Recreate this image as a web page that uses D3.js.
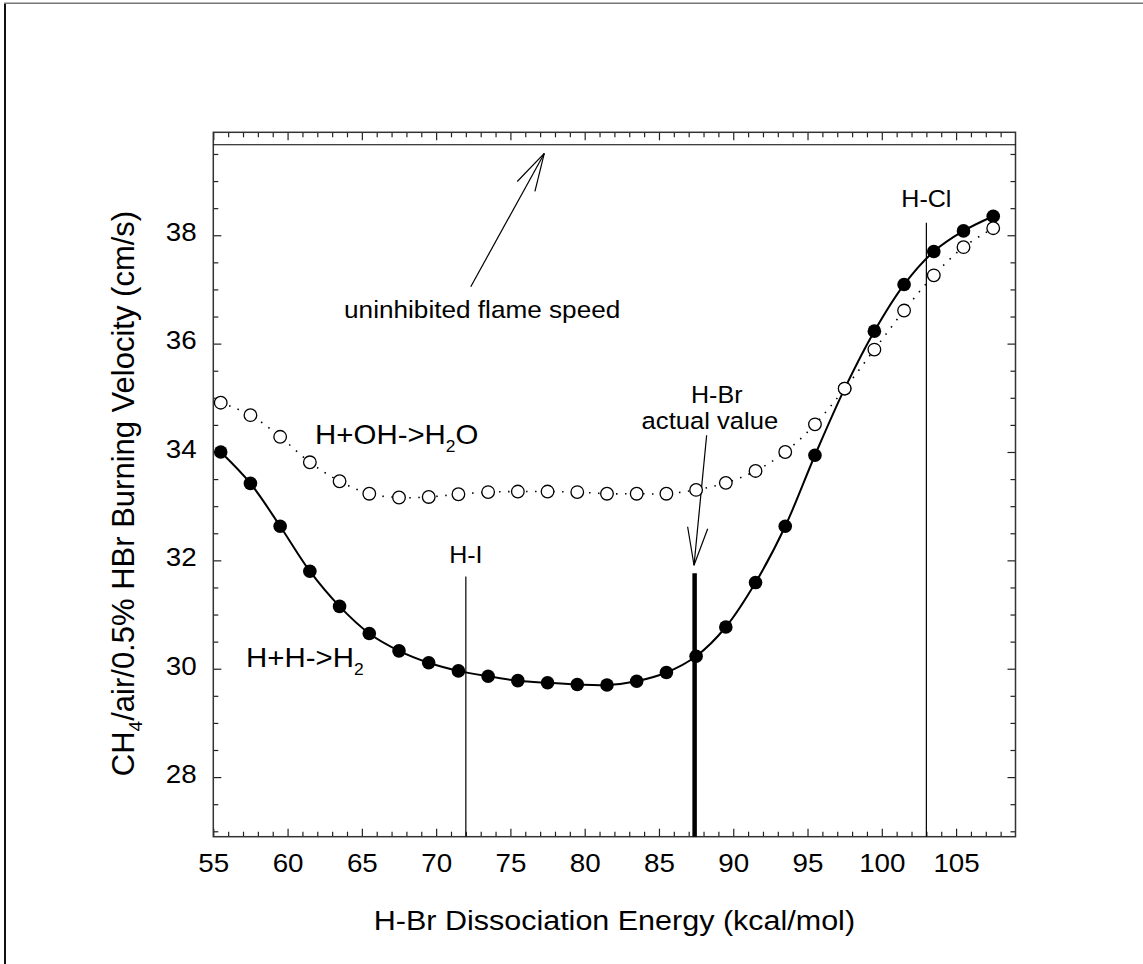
<!DOCTYPE html>
<html>
<head>
<meta charset="utf-8">
<script src="https://cdn.jsdelivr.net/npm/d3@7"></script>
<style>
  body { margin: 0; background: #fff; }
  svg { display: block; font-family: "Liberation Sans", Arial, sans-serif; }
</style>
</head>
<body>
<svg id="chart" width="1143" height="964"></svg>
<script>
// H-Br dissociation energy (kcal/mol) for each computed point
const energy = [55.5, 57.5, 59.5, 61.5, 63.5, 65.5, 67.5, 69.5, 71.5, 73.5, 75.5, 77.5, 79.5, 81.5,
  83.5, 85.5, 87.5, 89.5, 91.5, 93.5, 95.5, 97.5, 99.5, 101.5, 103.5, 105.5, 107.5];
// burning velocity (cm/s), H+H->H2 variant (filled) and H+OH->H2O variant (open)
const velocityHH = [34.00, 33.42, 32.63, 31.80, 31.15, 30.65, 30.33, 30.11, 29.96, 29.86, 29.78, 29.74,
  29.71, 29.70, 29.77, 29.93, 30.23, 30.77, 31.59, 32.63, 33.94, 35.17, 36.23, 37.09, 37.70, 38.08, 38.35];
const velocityHOH = [34.91, 34.68, 34.28, 33.81, 33.46, 33.23, 33.16, 33.17, 33.22, 33.26, 33.27, 33.27,
  33.26, 33.23, 33.23, 33.23, 33.30, 33.43, 33.65, 34.00, 34.51, 35.17, 35.89, 36.61, 37.26, 37.78, 38.13];

const xMajorTicks = [55, 60, 65, 70, 75, 80, 85, 90, 95, 100, 105];
const yMajorTicks = [28, 30, 32, 34, 36, 38];
const uninhibitedSpeed = 39.67;

// reference bond energies (vertical marker lines)
const bondNames = ['H-I', 'H-Br', 'H-Cl'];
const bondEnergy = [72, 87.4, 103];
const bondTop = [31.70, 31.76, 38.23];

const margin = { top: 132.3, right: 127.5, bottom: 127.3, left: 213.3 };
const width = 1143, height = 964;
const SX = 1.09; // the original text is slightly wider than Arial

const svg = d3.select('#chart');

const x = d3.scaleLinear().domain([55, 109]).range([margin.left, width - margin.right]);
const y = d3.scaleLinear().domain([26.9, 39.9]).range([height - margin.bottom, margin.top]);

// outer page border (left and top only are visible)
svg.append('line').attr('x1', 5).attr('x2', 5).attr('y1', 3).attr('y2', height)
  .style('stroke', '#111').style('stroke-width', 2);
svg.append('line').attr('x1', 4).attr('x2', width).attr('y1', 3.3).attr('y2', 3.3)
  .style('stroke', '#777').style('stroke-width', 1.5);

// ticks
const addAxis = (axis, transform, size, ticks, labels) => {
  const g = svg.append('g').attr('transform', transform)
    .call(axis.tickValues(ticks).tickSizeInner(-size).tickSizeOuter(0)
      .tickFormat(labels ? d3.format('d') : ''));
  g.select('.domain').remove();
  g.selectAll('line').style('stroke', '#222').style('stroke-width', 1.2);
  return g;
};

const xMinor = d3.range(56, 109, 1).filter(v => v % 5 !== 0);
const yMinor = d3.range(27, 39.9, 0.5).filter(v => v % 2 !== 0);
const bottomY = y.range()[0], topY = y.range()[1];

const xAxisG = addAxis(d3.axisBottom(x).tickPadding(17.6), `translate(0,${bottomY})`, 8, xMajorTicks, true);
addAxis(d3.axisBottom(x), `translate(0,${bottomY})`, 5, xMinor, false);
addAxis(d3.axisTop(x), `translate(0,${topY})`, 8, xMajorTicks, false);
addAxis(d3.axisTop(x), `translate(0,${topY})`, 5, xMinor, false);
const yAxisG = addAxis(d3.axisLeft(y).tickPadding(15.2), `translate(${x.range()[0]},0)`, 8, yMajorTicks, true);
addAxis(d3.axisLeft(y), `translate(${x.range()[0]},0)`, 5, yMinor, false);
addAxis(d3.axisRight(y), `translate(${x.range()[1]},0)`, 8, yMajorTicks, false);
addAxis(d3.axisRight(y), `translate(${x.range()[1]},0)`, 5, yMinor, false);

xAxisG.selectAll('text').attr('font-size', 25.5).attr('font-family', null)
  .attr('fill', '#000').attr('transform', `scale(${SX},1)`);
yAxisG.selectAll('text').attr('font-size', 25.5).attr('font-family', null)
  .attr('fill', '#000').attr('dy', '0.21em').attr('transform', `scale(${SX},1)`);

// plot frame
svg.append('rect')
  .attr('x', x.range()[0]).attr('y', topY)
  .attr('width', x.range()[1] - x.range()[0]).attr('height', bottomY - topY)
  .style('fill', 'none').style('stroke', '#333').style('stroke-width', 1.5);

// axis titles
svg.append('text')
  .attr('transform', `translate(${(x.range()[0] + x.range()[1]) / 2},930) scale(${SX},1)`)
  .attr('text-anchor', 'middle').attr('font-size', 28)
  .text('H-Br Dissociation Energy (kcal/mol)');

const yTitle = svg.append('text')
  .attr('transform', `translate(134,${(topY + bottomY) / 2 + 9}) rotate(-90)`)
  .attr('text-anchor', 'middle').attr('font-size', 31);
yTitle.append('tspan').text('CH');
yTitle.append('tspan').attr('font-size', 19).attr('dy', 8).text('4');
yTitle.append('tspan').attr('dy', -8).text('/air/0.5% HBr Burning Velocity (cm/s)');

// uninhibited flame speed reference line
svg.append('line')
  .attr('x1', x.range()[0]).attr('x2', x.range()[1])
  .attr('y1', y(uninhibitedSpeed)).attr('y2', y(uninhibitedSpeed))
  .style('stroke', '#000').style('stroke-width', 1.2);

// bond energy markers
bondNames.forEach((name, i) => {
  svg.append('line')
    .attr('x1', x(bondEnergy[i])).attr('x2', x(bondEnergy[i]))
    .attr('y1', y(bondTop[i])).attr('y2', bottomY)
    .style('stroke', '#000').style('stroke-width', name === 'H-Br' ? 4.5 : 1.2);
});

const addLabel = (text, px, py, size, anchor) => svg.append('text')
  .attr('transform', `translate(${px},${py}) scale(${SX},1)`)
  .attr('text-anchor', anchor || 'middle').attr('font-size', size).text(text);

addLabel('H-I', x(72), y(31.95), 23);
addLabel('H-Cl', x(103), y(38.53), 23);
addLabel('H-Br', x(88.89), y(34.91), 23);
addLabel('actual value', x(88.43), y(34.43), 23.5);
addLabel('uninhibited flame speed', x(73.1), y(36.47), 24);

const addChem = (parts, px, py) => {
  const t = svg.append('text')
    .attr('transform', `translate(${px},${py}) scale(${SX},1)`)
    .attr('font-size', 27);
  t.append('tspan').text(parts[0]);
  t.append('tspan').attr('font-size', 16).attr('dy', 8).text(parts[1]);
  if (parts[2]) t.append('tspan').attr('dy', -8).text(parts[2]);
};
addChem(['H+OH->H', '2', 'O'], x(61.85), y(34.15));
addChem(['H+H->H', '2'], x(57.2), y(30.04));

// open-headed arrows
const arrows = [
  { from: [72.33, 37.05], to: [77.28, 39.51] },
  { from: [88.21, 34.31], to: [87.36, 31.91] },
];
arrows.forEach(a => {
  const x0 = x(a.from[0]), y0 = y(a.from[1]), x1 = x(a.to[0]), y1 = y(a.to[1]);
  const ang = Math.atan2(y0 - y1, x0 - x1);
  const len = 39, spread = 15 * Math.PI / 180;
  const head = [ang - spread, ang + spread].map(t => [x1 + len * Math.cos(t), y1 + len * Math.sin(t)]);
  const g = svg.append('g').style('stroke', '#000').style('stroke-width', 1.2).style('fill', 'none');
  g.append('line').attr('x1', x0).attr('y1', y0).attr('x2', x1).attr('y2', y1);
  head.forEach(h => g.append('line').attr('x1', x1).attr('y1', y1).attr('x2', h[0]).attr('y2', h[1]));
});

// series
const seriesHH = energy.map((e, i) => [e, velocityHH[i]]);
const seriesHOH = energy.map((e, i) => [e, velocityHOH[i]]);
const line = d3.line().x(d => x(d[0])).y(d => y(d[1])).curve(d3.curveCatmullRom.alpha(0.5));

svg.append('path').datum(seriesHOH).attr('d', line)
  .style('fill', 'none').style('stroke', '#000').style('stroke-width', 1.6)
  .style('stroke-dasharray', '1.5,7.5');
svg.append('path').datum(seriesHH).attr('d', line)
  .style('fill', 'none').style('stroke', '#000').style('stroke-width', 2);

svg.append('g').selectAll('circle').data(seriesHH).enter().append('circle')
  .attr('cx', d => x(d[0])).attr('cy', d => y(d[1])).attr('r', 6.8)
  .style('fill', '#000');
svg.append('g').selectAll('circle').data(seriesHOH).enter().append('circle')
  .attr('cx', d => x(d[0])).attr('cy', d => y(d[1])).attr('r', 6.3)
  .style('fill', '#fff').style('stroke', '#000').style('stroke-width', 1.3);
</script>
</body>
</html>
